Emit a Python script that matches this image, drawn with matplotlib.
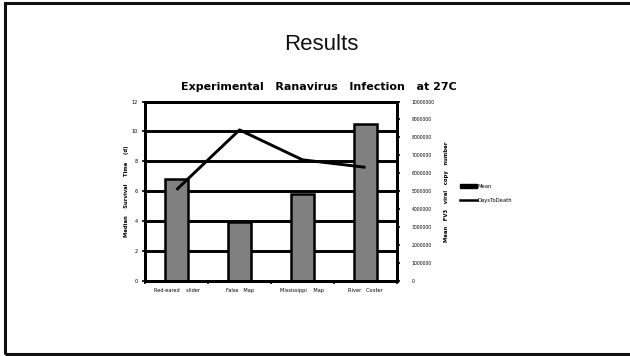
import matplotlib
matplotlib.use("Agg")
import matplotlib.pyplot as plt
from matplotlib.patches import Rectangle, Patch
from matplotlib.lines import Line2D
from matplotlib.transforms import blended_transform_factory

# Data
categories = ["Red-eared    slider", "False   Map", "Mississippi    Map", "River   Cooter"]
mean_copies = [5700000, 3300000, 4830000, 8720000]   # bars, right axis
days_to_death = [6.1, 10.1, 8.1, 7.6]                 # line, left axis
left_ticks = [0, 2, 4, 6, 8, 10, 12]
right_ticks = [0, 1000000, 2000000, 3000000, 4000000, 5000000,
               6000000, 7000000, 8000000, 9000000, 10000000]

W, H = 630, 356
fig = plt.figure(figsize=(W / 100, H / 100), dpi=100)
fig.patch.set_facecolor("white")

# Slide frame (right edge runs off the page)
fig.add_artist(Rectangle((4.5 / W, 1 - 354 / H), 700 / W, 351.5 / H,
                         transform=fig.transFigure, fill=False,
                         edgecolor="#111111", lw=2.2))

fig.text(321 / W, 1 - 45 / H, "Results", ha="center", va="center",
         fontsize=16, family="Liberation Sans", color="#111111")

fig.text(319 / W, 1 - 87.5 / H, "Experimental   Ranavirus   Infection   at 27C",
         ha="center", va="center", fontsize=8, fontweight="bold")

# Axes
x0, x1, yt, yb = 145, 397, 101.5, 281
ax = fig.add_axes([x0 / W, 1 - yb / H, (x1 - x0) / W, (yb - yt) / H])
ax2 = ax.twinx()
ax.set_zorder(ax2.get_zorder() + 1)
ax.patch.set_visible(False)

xs = list(range(len(categories)))
ax.set_xlim(-0.5, len(categories) - 0.5)
ax.set_ylim(0, 12)
ax2.set_ylim(0, 10000000)

# Horizontal gridlines on the days scale, kept behind the bars
gt = blended_transform_factory(ax2.transAxes, ax.transData)
for v in left_ticks[1:]:
    ax2.plot([0, 1], [v, v], transform=gt, color="black", lw=2.1,
             zorder=0.5, solid_capstyle="butt", clip_on=False)

ax2.bar(xs, mean_copies, width=0.38, color="#808080", edgecolor="black",
        linewidth=1.8, zorder=2)
ax.plot(xs, days_to_death, color="black", lw=2.1, zorder=3,
        solid_capstyle="butt")

for a in (ax, ax2):
    for s in a.spines.values():
        s.set_linewidth(2.1)
        s.set_color("black")

ax.set_yticks(left_ticks)
ax.set_yticklabels([str(t) for t in left_ticks])
ax.tick_params(axis="y", labelsize=3.6, length=2.5, width=1.2, pad=2.5)
ax2.set_yticks(right_ticks)
ax2.set_yticklabels([str(t) for t in right_ticks])
ax2.tick_params(axis="y", labelsize=3.3, length=2.5, width=1.2, pad=8)

ax.set_xticks([i - 0.5 for i in range(len(categories) + 1)])
ax.set_xticklabels([])
ax.set_xticks(xs, minor=True)
ax.set_xticklabels(categories, minor=True)
ax.tick_params(axis="x", which="major", length=2.5, width=1.2)
ax.tick_params(axis="x", which="minor", length=0, labelsize=3.6, pad=5)
ax2.tick_params(axis="x", length=0)

ax.set_ylabel("Median    Survival    Time    (d)", fontsize=3.8,
              fontweight="bold", labelpad=2)
ax2.set_ylabel("Mean   FV3   viral   copy   number", fontsize=3.8,
               fontweight="bold", labelpad=7)

# Legend
handles = [Patch(facecolor="black", edgecolor="black", lw=1.0),
           Line2D([0], [0], color="black", lw=1.8)]
fig.legend(handles, ["Mean", "DaysToDeath"], loc="center left",
           bbox_to_anchor=(457 / W, 1 - 193.5 / H), frameon=False,
           fontsize=3.8, handlelength=3.3, handleheight=0.9,
           handletextpad=0.0, labelspacing=1.7, borderpad=0)

fig.savefig("out.png", dpi=100)
